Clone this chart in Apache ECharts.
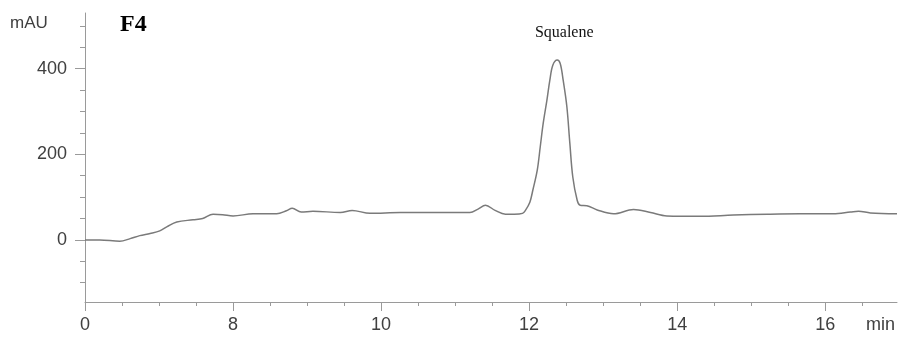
<!DOCTYPE html>
<html>
<head>
<meta charset="utf-8">
<script src="https://cdn.jsdelivr.net/npm/echarts@6/dist/echarts.min.js"></script>
<style>
  html, body { margin: 0; padding: 0; background: #fff; }
  #chart { width: 901px; height: 337px; }
</style>
</head>
<body>
<div id="chart"></div>
<script>
// retention time (min) and absorbance (mAU)
const times = [6.00, 6.20, 6.47, 6.61, 6.74, 6.88, 7.01, 7.11, 7.24, 7.46, 7.59, 7.73, 7.86, 8.00,
  8.27, 8.59, 8.72, 8.80, 8.92, 9.08, 9.45, 9.61, 9.85, 10.26, 10.80, 11.20, 11.31, 11.41,
  11.54, 11.68, 11.80, 11.91, 11.95, 12.01, 12.05, 12.11, 12.15, 12.19, 12.24, 12.28, 12.32,
  12.38, 12.42, 12.46, 12.51, 12.55, 12.59, 12.65, 12.69, 12.78, 12.92, 13.14, 13.41, 13.64,
  13.86, 14.31, 14.76, 15.22, 15.66, 16.11, 16.34, 16.45, 16.61, 16.97];
const signal = [0, 0, -3, 3, 10, 15, 21, 31, 42, 47, 50, 60, 59, 56,
  61, 61, 68, 74, 65, 67, 64, 69, 62, 64, 64, 64, 72, 81,
  69, 60, 60, 62, 69, 88, 116, 163, 217, 272, 326, 373, 408,
  420, 412, 373, 311, 226, 147, 92, 81, 80, 70, 61, 71, 64,
  56, 55, 58, 60, 61, 61, 65, 67, 63, 61];

const xTickValues = [6, 8, 10, 12, 14, 16];
const xTickLabels = ['0', '8', '10', '12', '14', '16'];
const xMinorTicks = [6.5, 7, 7.5, 8.5, 9, 9.5, 10.5, 11, 11.5, 12.5, 13, 13.5, 14.5, 15, 15.5, 16.5];
const yTickValues = [0, 200, 400];
const yMinorTicks = [-100, -50, 50, 100, 150, 250, 300, 350, 450, 500];

const peakName = 'Squalene';
const peakTime = 12.38;
const peakValue = 420;

const axisColor = '#9a9a9a';
const textColor = '#404040';

const chart = echarts.init(document.getElementById('chart'));

const xRange = { min: 6, max: 16.97 };
const yRange = { min: -145, max: 530 };

const option = {
  backgroundColor: '#fff',
  animation: false,
  grid: { left: 85, right: 4, top: 13, bottom: 35 },
  xAxis: [
    {
      type: 'value',
      ...xRange,
      splitLine: { show: false },
      axisLine: { onZero: false, lineStyle: { color: axisColor, width: 1 } },
      axisTick: { show: true, customValues: xTickValues, length: 9, lineStyle: { color: axisColor } },
      axisLabel: {
        customValues: xTickValues,
        margin: 14,
        color: textColor,
        fontFamily: 'Liberation Sans',
        fontSize: 18,
        formatter: v => xTickLabels[xTickValues.indexOf(v)]
      }
    },
    {
      type: 'value',
      ...xRange,
      position: 'bottom',
      splitLine: { show: false },
      axisLine: { show: false, onZero: false },
      axisTick: { show: true, customValues: xMinorTicks, length: 4, lineStyle: { color: axisColor } },
      axisLabel: { show: false }
    }
  ],
  yAxis: [
    {
      type: 'value',
      ...yRange,
      splitLine: { show: false },
      axisLine: { show: true, onZero: false, lineStyle: { color: axisColor, width: 1 } },
      axisTick: { show: true, customValues: yTickValues, length: 10, lineStyle: { color: axisColor } },
      axisLabel: {
        customValues: yTickValues,
        margin: 18,
        color: textColor,
        fontFamily: 'Liberation Sans',
        fontSize: 18
      }
    },
    {
      type: 'value',
      ...yRange,
      position: 'left',
      splitLine: { show: false },
      axisLine: { show: false, onZero: false },
      axisTick: { show: true, customValues: yMinorTicks, length: 5, lineStyle: { color: axisColor } },
      axisLabel: { show: false }
    }
  ],
  graphic: [
    { type: 'text', left: 10, top: 15, style: { text: 'mAU', fill: textColor, font: '17px "Liberation Sans"' } },
    { type: 'text', left: 120, top: 13, style: { text: 'F4', fill: '#000', font: 'bold 24px "Liberation Serif"' } },
    { type: 'text', left: 866, top: 316, style: { text: 'min', fill: textColor, font: '18px "Liberation Sans"' } }
  ],
  series: [
    {
      type: 'line',
      xAxisIndex: 0,
      yAxisIndex: 0,
      data: times.map((t, i) => [t, signal[i]]),
      smooth: 0.35,
      showSymbol: false,
      lineStyle: { color: '#7a7a7a', width: 1.5 },
      markPoint: {
        symbol: 'circle',
        symbolSize: 0,
        data: [{ coord: [peakTime, peakValue] }],
        label: {
          show: true,
          formatter: peakName,
          offset: [7, -27],
          color: '#111',
          fontFamily: 'Liberation Serif',
          fontSize: 16
        }
      }
    }
  ]
};

chart.setOption(option);
</script>
</body>
</html>
